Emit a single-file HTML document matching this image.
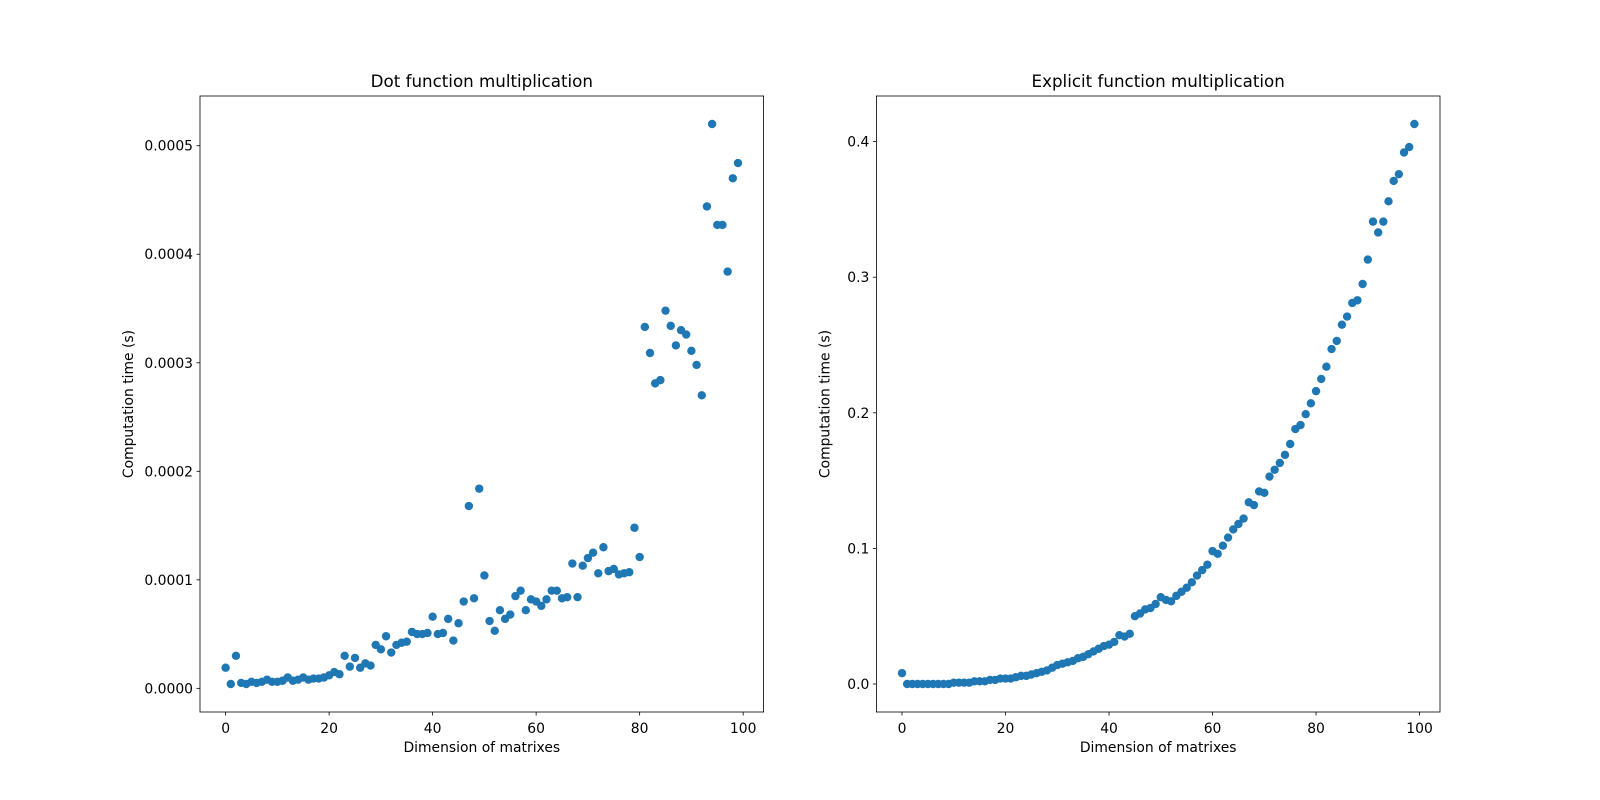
<!DOCTYPE html>
<html><head><meta charset="utf-8"><style>
body{margin:0;background:#fff}
svg{display:block;font-family:"DejaVu Sans","Liberation Sans",sans-serif}
</style></head><body>
<svg id="fig" width="1600" height="800" viewBox="0 0 1600 800"></svg>
<script>
const dims = Array.from({length:100},(_,i)=>i);
const dotTimes = [0.000019,0.000004,0.00003,0.000005,0.000004,0.000006,0.000005,0.000006,0.000008,0.000006,
0.000006,0.000007,0.00001,0.000007,0.000008,0.00001,0.000008,0.000009,0.000009,0.00001,
0.000012,0.000015,0.000013,0.00003,0.00002,0.000028,0.000019,0.000023,0.000021,0.00004,
0.000036,0.000048,0.000033,0.00004,0.000042,0.000043,0.000052,0.00005,0.00005,0.000051,
0.000066,0.00005,0.000051,0.000064,0.000044,0.00006,0.00008,0.000168,0.000083,0.000184,
0.000104,0.000062,0.000053,0.000072,0.000064,0.000068,0.000085,0.00009,0.000072,0.000082,
0.00008,0.000076,0.000082,0.00009,0.00009,0.000083,0.000084,0.000115,0.000084,0.000113,
0.00012,0.000125,0.000106,0.00013,0.000108,0.00011,0.000105,0.000106,0.000107,0.000148,
0.000121,0.000333,0.000309,0.000281,0.000284,0.000348,0.000334,0.000316,0.00033,0.000326,
0.000311,0.000298,0.00027,0.000444,0.00052,0.000427,0.000427,0.000384,0.00047,0.000484];
const explicitTimes = [0.008,0,0,0,0,0,0,0,0,0,
0.001,0.001,0.001,0.001,0.002,0.002,0.002,0.003,0.003,0.004,
0.004,0.004,0.005,0.006,0.006,0.007,0.008,0.009,0.010,0.012,
0.014,0.015,0.016,0.017,0.019,0.020,0.022,0.024,0.026,0.028,
0.029,0.031,0.036,0.035,0.037,0.050,0.052,0.055,0.056,0.059,
0.064,0.062,0.061,0.065,0.068,0.071,0.075,0.080,0.084,0.088,
0.098,0.096,0.102,0.108,0.114,0.118,0.122,0.134,0.132,0.142,
0.141,0.153,0.158,0.163,0.169,0.177,0.188,0.191,0.199,0.207,
0.216,0.225,0.234,0.247,0.253,0.265,0.271,0.281,0.283,0.295,
0.313,0.341,0.333,0.341,0.356,0.371,0.376,0.392,0.396,0.413];
const xTicks = [0,20,40,60,80,100];
const dotYTicks = [0,0.0001,0.0002,0.0003,0.0004,0.0005];
const dotYLabels = ["0.0000","0.0001","0.0002","0.0003","0.0004","0.0005"];
const expYTicks = [0,0.1,0.2,0.3,0.4];
const expYLabels = ["0.0","0.1","0.2","0.3","0.4"];

const NS="http://www.w3.org/2000/svg";
const svg=document.getElementById('fig');
function el(tag,attrs,parent){const e=document.createElementNS(NS,tag);for(const k in attrs)e.setAttribute(k,attrs[k]);(parent||svg).appendChild(e);return e;}

function panel(key,left,title,xs,ys,yt,yl){
  const top=96,bottom=712,w=563.6,right=left+w;
  const g=el('g',{});
  
  
  const xmin=Math.min(...xs),xmax=Math.max(...xs),ymin=Math.min(...ys),ymax=Math.max(...ys);
  const xp=(xmax-xmin)*0.05,yp=(ymax-ymin)*0.05;
  const x0=xmin-xp,x1=xmax+xp,y0=ymin-yp,y1=ymax+yp;
  const sx=v=>left+(v-x0)/(x1-x0)*w;
  const sy=v=>bottom-(v-y0)/(y1-y0)*(bottom-top);
  const pts=el('g',{},g);
  
  
  xs.forEach((x,i)=>{
    const c=el('circle',{cx:sx(x),cy:sy(ys[i]),r:4.2,fill:'#1f77b4'},pts);
    
    
  });
  const fr=el('rect',{x:left,y:top,width:w,height:bottom-top,fill:'none',stroke:'#000','stroke-width':0.8},g);
  
  
  xTicks.forEach(t=>{
    const X=sx(t);
    el('line',{x1:X,x2:X,y1:bottom,y2:bottom+3.5,stroke:'#000','stroke-width':0.8},g);
    const tx=el('text',{x:X,y:733,'text-anchor':'middle','font-size':13.9},g);
    tx.textContent=String(t);
    
    
  });
  yt.forEach((t,i)=>{
    const Y=sy(t);
    el('line',{x1:left-3.5,x2:left,y1:Y,y2:Y,stroke:'#000','stroke-width':0.8},g);
    const tx=el('text',{x:left-7,y:Y+5,'text-anchor':'end','font-size':13.9},g);
    tx.textContent=yl[i];
    
    
  });
  const tt=el('text',{x:left+w/2,y:87,'text-anchor':'middle','font-size':16.7},g);
  tt.textContent=title;
  
  
  const xl=el('text',{x:left+w/2,y:752,'text-anchor':'middle','font-size':13.9},g);
  xl.textContent='Dimension of matrixes';
  
  
  const lw=key==='dot'?left-67:left-47;
  const yy=el('text',{x:0,y:0,'text-anchor':'middle','font-size':13.9,transform:`translate(${lw},${(top+bottom)/2}) rotate(-90)`},g);
  yy.textContent='Computation time (s)';
  
  
}
panel('dot',200,'Dot function multiplication',dims,dotTimes,dotYTicks,dotYLabels);
panel('explicit',876.4,'Explicit function multiplication',dims,explicitTimes,expYTicks,expYLabels);
</script>
</body></html>
